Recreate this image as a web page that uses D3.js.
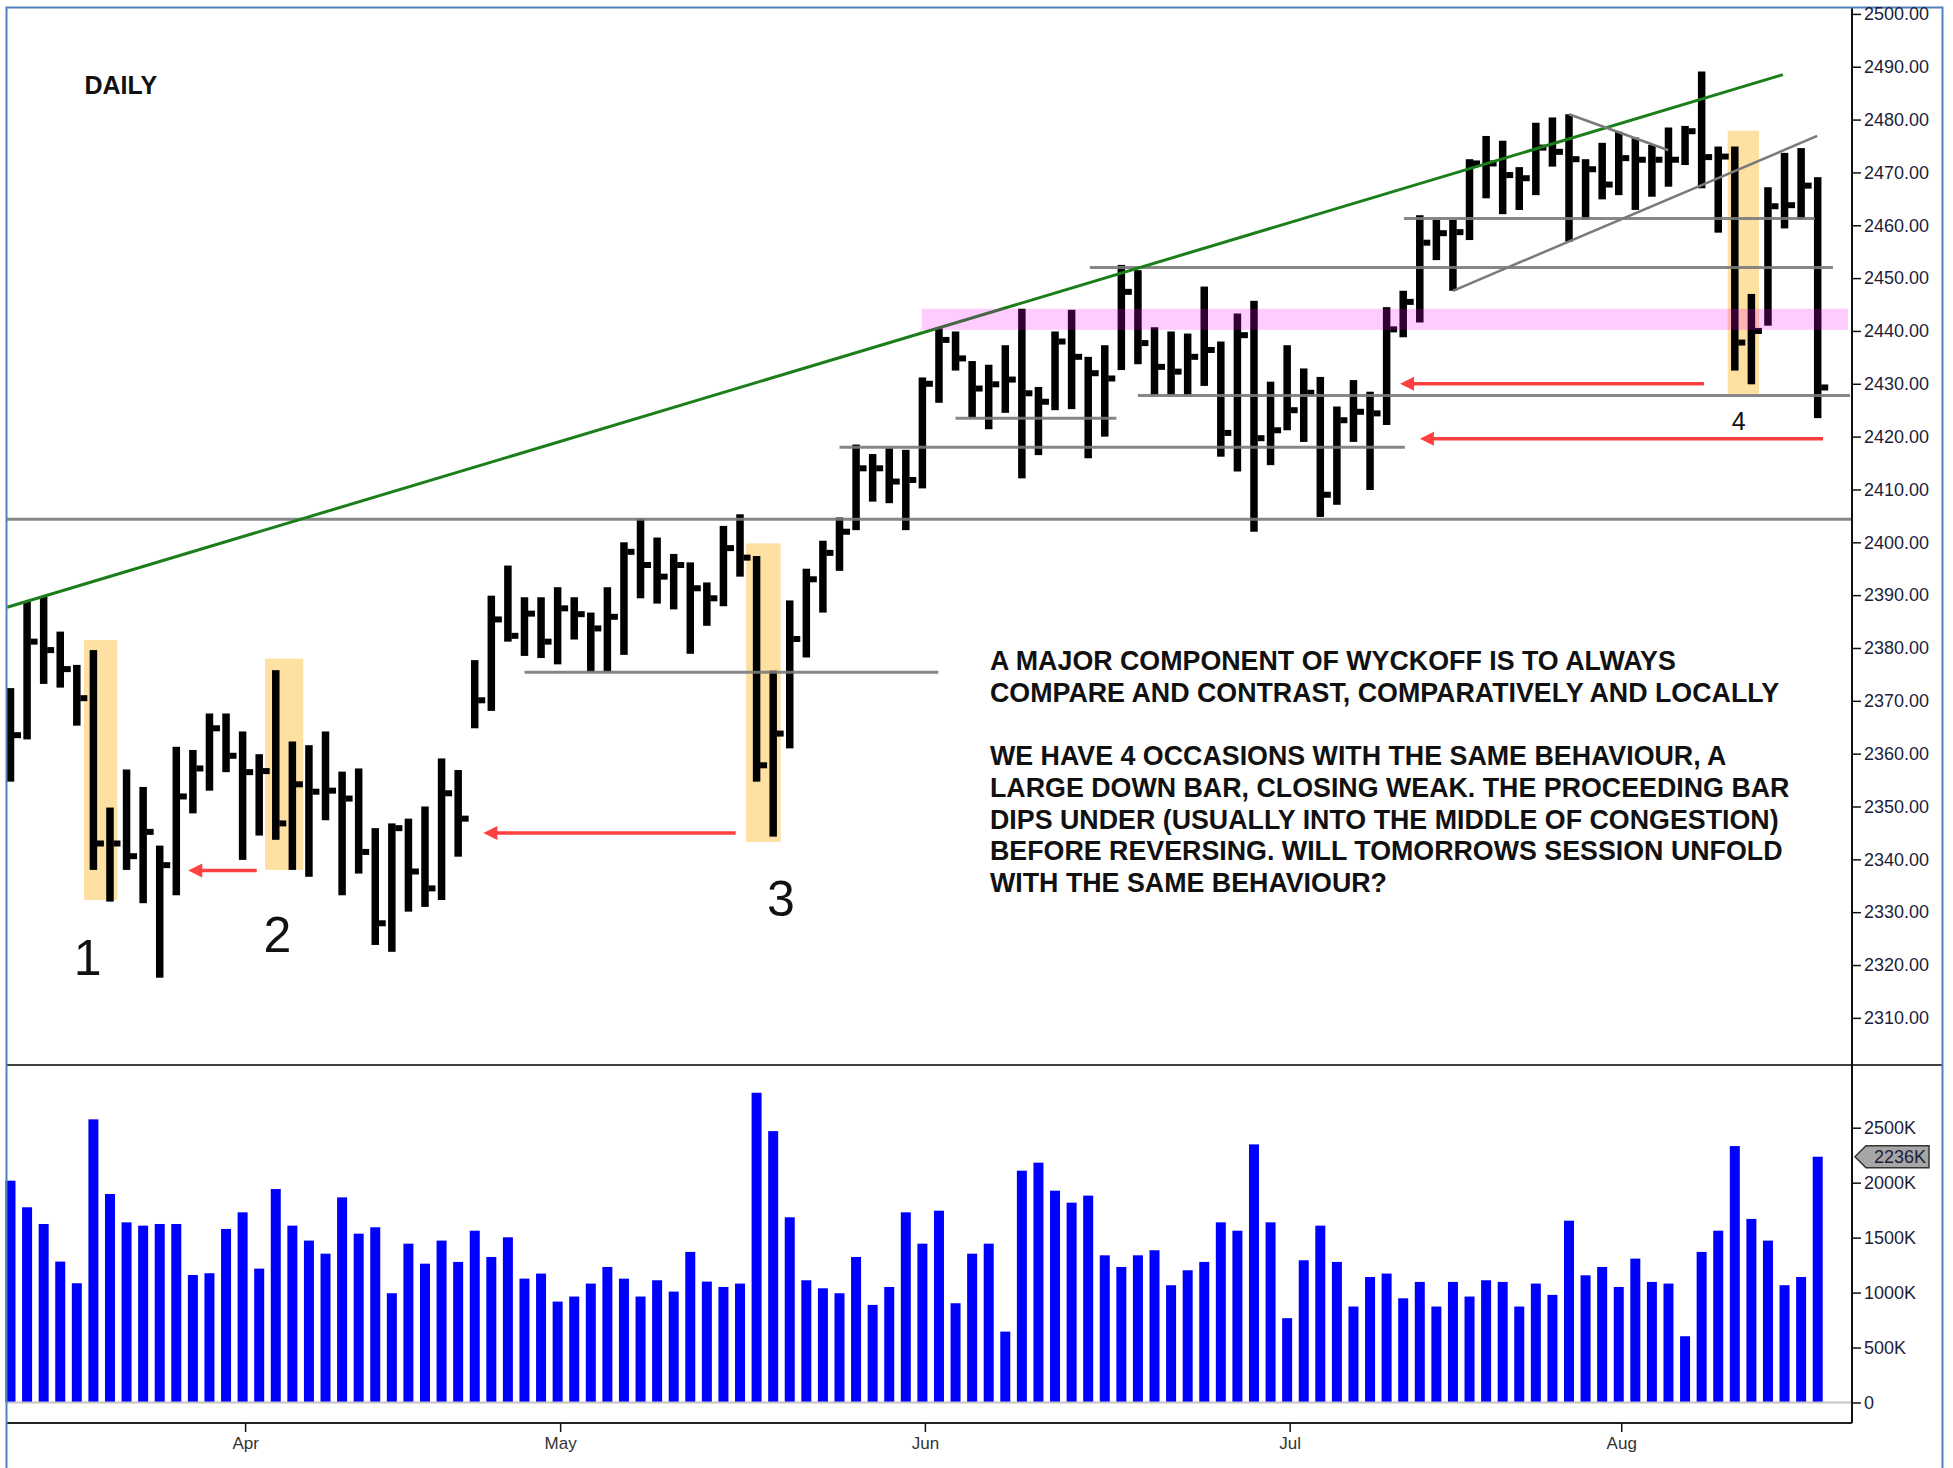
<!DOCTYPE html>
<html><head><meta charset="utf-8">
<script src="https://cdn.jsdelivr.net/npm/d3@7"></script>
<style>html,body{margin:0;padding:0;background:#fff;} svg{display:block;font-family:"Liberation Sans", Arial, sans-serif;}</style>
</head><body><svg id="c" width="1953" height="1468"></svg>
<script>
// ---------- data ----------
const dates = [
"2017-03-14","2017-03-15","2017-03-16","2017-03-17","2017-03-20","2017-03-21","2017-03-22","2017-03-23","2017-03-24","2017-03-27",
"2017-03-28","2017-03-29","2017-03-30","2017-03-31","2017-04-03","2017-04-04","2017-04-05","2017-04-06","2017-04-07","2017-04-10",
"2017-04-11","2017-04-12","2017-04-13","2017-04-17","2017-04-18","2017-04-19","2017-04-20","2017-04-21","2017-04-24","2017-04-25",
"2017-04-26","2017-04-27","2017-04-28","2017-05-01","2017-05-02","2017-05-03","2017-05-04","2017-05-05","2017-05-08","2017-05-09",
"2017-05-10","2017-05-11","2017-05-12","2017-05-15","2017-05-16","2017-05-17","2017-05-18","2017-05-19","2017-05-22","2017-05-23",
"2017-05-24","2017-05-25","2017-05-26","2017-05-30","2017-05-31","2017-06-01","2017-06-02","2017-06-05","2017-06-06","2017-06-07",
"2017-06-08","2017-06-09","2017-06-12","2017-06-13","2017-06-14","2017-06-15","2017-06-16","2017-06-19","2017-06-20","2017-06-21",
"2017-06-22","2017-06-23","2017-06-26","2017-06-27","2017-06-28","2017-06-29","2017-06-30","2017-07-03","2017-07-05","2017-07-06",
"2017-07-07","2017-07-10","2017-07-11","2017-07-12","2017-07-13","2017-07-14","2017-07-17","2017-07-18","2017-07-19","2017-07-20",
"2017-07-21","2017-07-24","2017-07-25","2017-07-26","2017-07-27","2017-07-28","2017-07-31","2017-08-01","2017-08-02","2017-08-03",
"2017-08-04","2017-08-07","2017-08-08","2017-08-09","2017-08-10","2017-08-11","2017-08-14","2017-08-15","2017-08-16","2017-08-17"];

const high = [
2372.4,2388.8,2389.7,2383.1,2376.8,2379.6,2349.8,2357.0,2353.7,2342.6,
2361.3,2360.7,2367.6,2367.6,2364.2,2359.9,2375.8,2362.3,2361.6,2364.2,
2356.6,2357.2,2345.9,2346.8,2347.7,2350.0,2359.1,2356.9,2377.7,2389.9,
2395.6,2389.6,2389.6,2391.5,2389.6,2386.7,2391.5,2400.0,2404.5,2400.9,
2397.8,2396.2,2392.4,2403.1,2405.3,2397.4,2375.7,2389.0,2395.0,2400.3,
2404.7,2418.5,2416.7,2417.8,2417.5,2431.2,2440.5,2439.9,2434.3,2433.6,
2437.3,2444.2,2429.4,2439.9,2444.0,2435.1,2437.3,2452.5,2451.5,2440.7,
2439.9,2439.5,2448.4,2438.0,2443.3,2445.7,2430.4,2437.3,2432.9,2431.3,
2425.7,2430.7,2428.5,2444.5,2447.6,2461.9,2461.0,2461.0,2472.5,2476.9,
2476.0,2471.0,2479.4,2480.4,2481.0,2472.5,2475.6,2477.7,2476.6,2475.2,
2478.5,2478.8,2489.1,2474.9,2474.9,2447.0,2467.2,2473.7,2474.6,2469.1];

const low = [
2354.7,2362.7,2373.2,2372.5,2365.3,2338.0,2332.0,2338.0,2331.7,2317.6,
2333.2,2348.7,2353.0,2356.5,2339.9,2344.5,2343.7,2338.0,2336.7,2347.4,
2333.2,2337.3,2323.8,2322.5,2330.1,2331.0,2332.3,2340.5,2364.8,2368.1,
2381.2,2378.5,2378.1,2376.9,2381.6,2375.5,2375.5,2378.7,2389.4,2388.4,
2387.3,2378.9,2384.2,2387.9,2393.5,2354.7,2344.3,2361.0,2378.2,2386.7,
2394.6,2402.3,2407.7,2407.4,2402.3,2410.2,2426.4,2432.5,2423.6,2421.4,
2424.5,2412.1,2416.5,2425.0,2425.2,2415.9,2420.0,2432.6,2433.7,2427.9,
2427.9,2427.9,2429.6,2416.2,2413.4,2402.0,2414.6,2421.2,2419.0,2404.8,
2407.1,2419.0,2409.9,2422.2,2438.8,2441.6,2453.4,2447.6,2457.2,2465.1,
2462.1,2462.9,2465.7,2471.1,2456.9,2461.1,2464.9,2465.7,2462.9,2465.4,
2467.3,2471.4,2467.0,2458.6,2432.5,2429.9,2441.0,2459.4,2461.2,2423.5];

const close = [
2363.5,2381.2,2379.6,2376.0,2370.5,2343.0,2343.0,2340.6,2345.2,2338.9,
2351.9,2357.2,2364.8,2359.6,2356.5,2356.7,2346.8,2354.2,2352.8,2353.0,
2351.5,2341.4,2327.9,2345.9,2337.7,2334.5,2352.5,2347.7,2370.1,2385.4,
2382.3,2386.5,2381.2,2387.5,2386.4,2383.7,2385.9,2398.2,2395.7,2393.5,
2395.7,2391.3,2389.4,2398.9,2397.1,2357.8,2363.8,2381.7,2393.0,2398.0,
2402.0,2414.0,2414.0,2411.5,2411.8,2430.0,2438.3,2434.8,2429.1,2429.9,
2430.8,2428.2,2426.6,2438.0,2435.1,2432.0,2431.0,2447.4,2437.7,2433.2,
2432.3,2435.1,2436.4,2420.7,2439.2,2419.7,2421.2,2425.0,2428.3,2409.0,
2423.1,2424.7,2424.4,2440.3,2445.5,2456.7,2458.5,2458.7,2471.7,2471.7,
2469.5,2468.9,2474.7,2473.9,2472.5,2470.6,2467.7,2472.7,2472.4,2472.4,
2472.4,2477.8,2472.9,2473.0,2437.8,2440.0,2463.6,2463.8,2467.5,2429.3];

// volume in thousands
const volume = [
2018,1776,1624,1282,1085,2576,1897,1639,1609,1624,
1624,1160,1176,1579,1730,1218,1942,1609,1473,1354,
1866,1536,1594,994,1445,1263,1473,1279,1563,1324,
1503,1127,1173,918,964,1082,1233,1127,964,1112,
1009,1370,1100,1051,1082,2818,2469,1685,1112,1039,
994,1324,888,1051,1730,1445,1745,903,1354,1445,
645,2109,2182,1927,1818,1882,1339,1233,1339,1385,
1067,1203,1279,1639,1563,2348,1639,767,1294,1609,
1279,873,1142,1173,948,1097,873,1097,964,1112,
1097,873,1082,979,1654,1157,1233,1051,1309,1097,
1082,603,1370,1563,2333,1670,1473,1067,1142,2236];

const priceTicks = [2310,2320,2330,2340,2350,2360,2370,2380,2390,2400,2410,2420,2430,2440,2450,2460,2470,2480,2490,2500];
const volumeTicks = [0,500,1000,1500,2000,2500];
const monthLabels = ["Apr","May","Jun","Jul","Aug"];
const monthStarts = ["2017-04-03","2017-05-01","2017-06-01","2017-07-03","2017-08-01"];
const lastVolumeLabel = "2236K";

// annotations (bar-index / price units)
const levelPrice = [2404.35, 2375.4, 2418.0, 2423.5, 2427.8, 2452.0, 2461.3];
const levelFrom  = [-0.27, 31.0, 50.0, 57.0, 68.0, 65.1, 84.05];
const levelTo    = [111.06, 55.96, 84.1, 66.7, 110.95, 109.92, 108.82];

const trendFrom  = [[-0.2, 2387.7], [87, 2447.6], [94, 2481.0]];
const trendTo    = [[106.9, 2488.5], [108.97, 2476.9], [99.99, 2474.2]];
const trendKind  = ["green", "grey", "grey"];

const boxFrom   = [4.43, 15.35, 44.36, 103.57];
const boxTo     = [6.44, 17.66, 46.45, 105.46];
const boxTop    = [2381.5, 2378.0, 2399.8, 2477.9];
const boxBottom = [2332.3, 2338.0, 2343.3, 2428.1];

const arrowPrice = [2337.9, 2345.0, 2430.0, 2419.6];
const arrowTail  = [14.85, 43.74, 102.14, 109.32];
const arrowTip   = [10.72, 28.52, 83.81, 85.01];

const bandRange = [54.96, 110.83];
const bandPrice = [2440.2, 2444.2];

const caseLabels = ["1", "2", "3", "4"];
const caseIdx    = [4.66, 16.1, 46.47, 104.24];
const casePrice  = [2318.1, 2322.5, 2329.2, 2421.25];
const caseSize   = [50, 50, 50, 25];

const noteLines = [
"A MAJOR COMPONENT OF WYCKOFF IS TO ALWAYS",
"COMPARE AND CONTRAST, COMPARATIVELY AND LOCALLY",
"",
"WE HAVE 4 OCCASIONS WITH THE SAME BEHAVIOUR, A",
"LARGE DOWN BAR, CLOSING WEAK. THE PROCEEDING BAR",
"DIPS UNDER (USUALLY INTO THE MIDDLE OF CONGESTION)",
"BEFORE REVERSING. WILL TOMORROWS SESSION UNFOLD",
"WITH THE SAME BEHAVIOUR?"];

// ---------- layout ----------
const svg = d3.select("#c");
const axisX = 1852, leftX = 6.5, rightBorder = 1942.5, topY = 7.5;
const sepY = 1065, volBottomY = 1423;

const xi = d3.scaleLinear().domain([0, dates.length - 1]).range([10.5, 1817.7]);
const xp = d3.scalePoint().domain(dates).range([10.5, 1817.7]);
const y = d3.scaleLinear().domain([2300, 2500]).range([542.3 + 100 * 5.284, 542.3 - 100 * 5.284]);
const yv = d3.scaleLinear().domain([0, 2500]).range([1402.5, 1127.7]);

// highlight boxes (behind bars)
svg.append("g").selectAll("rect").data(boxFrom).join("rect")
  .attr("x", (d, i) => xi(d)).attr("width", (d, i) => xi(boxTo[i]) - xi(d))
  .attr("y", (d, i) => y(boxTop[i])).attr("height", (d, i) => y(boxBottom[i]) - y(boxTop[i]))
  .attr("fill", "#fde0a2");

// price bars
const bars = svg.append("g");
bars.selectAll("rect.hl").data(dates).join("rect").attr("class", "hl")
  .attr("x", d => xp(d) - 3.75).attr("width", 7.5)
  .attr("y", (d, i) => y(high[i])).attr("height", (d, i) => y(low[i]) - y(high[i]))
  .attr("fill", "#000");
bars.selectAll("rect.cl").data(dates).join("rect").attr("class", "cl")
  .attr("x", d => xp(d) + 3.5).attr("width", 7)
  .attr("y", (d, i) => y(close[i]) - 3).attr("height", 6)
  .attr("fill", "#000");

// horizontal grey levels
svg.append("g").selectAll("line").data(levelPrice).join("line")
  .attr("x1", (d, i) => xi(levelFrom[i])).attr("x2", (d, i) => xi(levelTo[i]))
  .attr("y1", d => y(d)).attr("y2", d => y(d))
  .attr("stroke", "#7a7a7a").attr("stroke-width", 3).attr("stroke-opacity", 0.9);

// trend lines
svg.append("g").selectAll("line").data(trendFrom).join("line")
  .attr("x1", d => xi(d[0])).attr("y1", d => y(d[1]))
  .attr("x2", (d, i) => xi(trendTo[i][0])).attr("y2", (d, i) => y(trendTo[i][1]))
  .attr("stroke", (d, i) => trendKind[i] === "green" ? "#1a7f1a" : "#7a7a7a")
  .attr("stroke-width", (d, i) => trendKind[i] === "green" ? 3 : 2.5);

// pink resistance band (translucent, above bars)
svg.append("rect")
  .attr("x", xi(bandRange[0])).attr("width", xi(bandRange[1]) - xi(bandRange[0]))
  .attr("y", y(bandPrice[1])).attr("height", y(bandPrice[0]) - y(bandPrice[1]))
  .attr("fill", "rgba(255,0,255,0.2)");

// red arrows
const arr = svg.append("g");
arrowPrice.forEach((p, i) => {
  const yy = y(p), tip = xi(arrowTip[i]), tail = xi(arrowTail[i]);
  arr.append("line").attr("x1", tail).attr("x2", tip + 10).attr("y1", yy).attr("y2", yy)
    .attr("stroke", "#ff4040").attr("stroke-width", 3.5);
  arr.append("path").attr("d", `M${tip},${yy} L${tip + 14},${yy - 7} L${tip + 14},${yy + 7} Z`)
    .attr("fill", "#ff4040");
});

// volume bars
svg.append("g").selectAll("rect").data(dates).join("rect")
  .attr("x", d => xp(d) - 5).attr("width", 10)
  .attr("y", (d, i) => yv(volume[i])).attr("height", (d, i) => yv(0) - yv(volume[i]))
  .attr("fill", "#0000ff");
svg.append("line").attr("x1", leftX).attr("x2", axisX).attr("y1", yv(0)).attr("y2", yv(0))
  .attr("stroke", "#c4c4c4").attr("stroke-width", 2);

// frame lines
svg.append("line").attr("x1", leftX).attr("x2", rightBorder).attr("y1", sepY).attr("y2", sepY).attr("stroke", "#000").attr("stroke-width", 1.5);
svg.append("line").attr("x1", leftX).attr("x2", axisX).attr("y1", volBottomY).attr("y2", volBottomY).attr("stroke", "#222").attr("stroke-width", 2);
svg.append("line").attr("x1", axisX).attr("x2", axisX).attr("y1", topY).attr("y2", volBottomY).attr("stroke", "#111").attr("stroke-width", 2);
svg.append("path").attr("d", `M${leftX},1468 L${leftX},${topY} L${rightBorder},${topY} L${rightBorder},1468`)
  .attr("fill", "none").attr("stroke", "#4f81bd").attr("stroke-width", 2);

// axes
function styleAxis(g, size) {
  g.select(".domain").remove();
  g.selectAll(".tick line").attr("stroke", "#111").attr("stroke-width", 1.5);
  g.selectAll(".tick text").attr("fill", "#1d1d3a").style("font-size", size + "px")
    .style("font-family", "'Liberation Sans', Arial, sans-serif");
}
const gp = svg.append("g").attr("transform", `translate(${axisX},0)`)
  .call(d3.axisRight(y).tickValues(priceTicks).tickFormat(d3.format(".2f")).tickSize(9).tickPadding(3));
styleAxis(gp, 18);
const gv = svg.append("g").attr("transform", `translate(${axisX},0)`)
  .call(d3.axisRight(yv).tickValues(volumeTicks).tickFormat(d => d === 0 ? "0" : d + "K").tickSize(9).tickPadding(3));
styleAxis(gv, 18);
const gx = svg.append("g").attr("transform", `translate(0,${volBottomY})`)
  .call(d3.axisBottom(xp).tickValues(monthStarts).tickFormat((d, i) => monthLabels[i]).tickSize(9).tickPadding(5));
styleAxis(gx, 17);
gx.selectAll(".tick").attr("transform", d => `translate(${xp(d) + 3},0)`);
gx.selectAll(".tick text").attr("fill", "#333");

// last volume marker
const lv = yv(volume[volume.length - 1]);
svg.append("path").attr("d", `M${axisX + 3},${lv} L${axisX + 14},${lv - 11} L${1929},${lv - 11} L${1929},${lv + 11} L${axisX + 14},${lv + 11} Z`)
  .attr("fill", "#a6a6a6").attr("stroke", "#333").attr("stroke-width", 1.5);
svg.append("text").attr("x", 1874).attr("y", lv + 6.5).text(lastVolumeLabel)
  .attr("fill", "#1d1d3a").style("font-size", "18px");

// texts
svg.append("text").attr("x", 84.5).attr("y", 94).text("DAILY")
  .style("font-size", "25px").style("font-weight", "bold").attr("fill", "#111");

svg.append("g").selectAll("text").data(caseLabels).join("text")
  .attr("x", (d, i) => xi(caseIdx[i])).attr("y", (d, i) => y(casePrice[i]))
  .attr("text-anchor", "middle").style("font-size", (d, i) => caseSize[i] + "px")
  .attr("fill", "#111").text(d => d);

svg.append("g").selectAll("text").data(noteLines).join("text")
  .attr("x", 990).attr("y", (d, i) => 670 + i * 31.7)
  .style("font-size", "26.8px").style("font-weight", "bold").attr("fill", "#111")
  .text(d => d);
</script>
</body></html>
